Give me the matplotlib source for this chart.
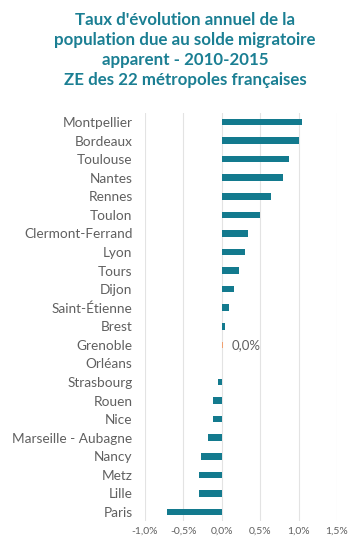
import matplotlib
matplotlib.use("Agg")
import matplotlib.pyplot as plt
from matplotlib.ticker import FuncFormatter

cities = ["Montpellier", "Bordeaux", "Toulouse", "Nantes", "Rennes", "Toulon",
          "Clermont-Ferrand", "Lyon", "Tours", "Dijon", "Saint-Étienne", "Brest",
          "Grenoble", "Orléans", "Strasbourg", "Rouen", "Nice", "Marseille - Aubagne",
          "Nancy", "Metz", "Lille", "Paris"]
values = [1.04, 1.00, 0.88, 0.80, 0.64, 0.50, 0.34, 0.30, 0.23, 0.16, 0.09, 0.04,
          0.01, 0.0, -0.05, -0.11, -0.12, -0.18, -0.27, -0.30, -0.30, -0.71]
highlight = "Grenoble"
highlight_label = "0,0%"
xticks = [-1.0, -0.5, 0.0, 0.5, 1.0, 1.5]

TEAL = "#137a8e"
ORANGE = "#f0a070"
TITLE_C = "#1b7f93"
GREY = "#606060"
FONT = "Lato"

fig = plt.figure(figsize=(3.51, 5.45), dpi=100)
ax = fig.add_axes([145/351, 1-521.3/545, (337-145)/351, (521.3-112.7)/545])

colors = [ORANGE if c == highlight else TEAL for c in cities]
ypos = list(range(len(cities)))
ax.barh(ypos, values, height=0.35, color=colors, zorder=3)
ax.set_ylim(len(cities)-0.5, -0.5)
ax.set_xlim(-1.0, 1.5)
ax.set_yticks(ypos)
ax.set_yticklabels(cities, fontsize=9.8, color=GREY, family=FONT)
ax.set_xticks(xticks)
ax.xaxis.set_major_formatter(FuncFormatter(lambda v, p: f"{v:.1f}%".replace(".", ",")))
for lab in ax.get_xticklabels():
    lab.set_fontsize(7.5)
    lab.set_color(GREY)
    lab.set_family(FONT)
ax.tick_params(axis="both", length=0)
ax.tick_params(axis="y", pad=9)
ax.tick_params(axis="x", pad=4)
for s in ax.spines.values():
    s.set_visible(False)
ax.grid(axis="x", color="#e3e3e3", linewidth=0.8, zorder=0)
ax.grid(axis="y", visible=False)

i = cities.index(highlight)
ax.text(values[i] + 0.12, i, highlight_label, va="center", ha="left",
        fontsize=9.5, color=GREY, family=FONT)

title = ("Taux d'évolution annuel de la\npopulation due au solde migratoire\n"
         "apparent - 2010-2015\nZE des 22 métropoles françaises")
fig.text(185/351, 1-12/545, title, ha="center", va="top", fontsize=12.2,
         fontweight="bold", color=TITLE_C, family=FONT, linespacing=1.32)

fig.savefig("out.png", dpi=100)
